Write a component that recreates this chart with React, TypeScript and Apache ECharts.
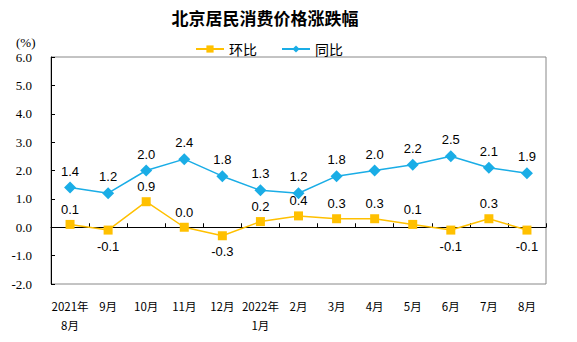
import React, { useEffect, useRef } from "react";
import * as echarts from "echarts";

const categories = ["2021年\n8月", "9月", "10月", "11月", "12月", "2022年\n1月", "2月", "3月", "4月", "5月", "6月", "7月", "8月"];
const momValues = [0.1, -0.1, 0.9, 0.0, -0.3, 0.2, 0.4, 0.3, 0.3, 0.1, -0.1, 0.3, -0.1];
const yoyValues = [1.4, 1.2, 2.0, 2.4, 1.8, 1.3, 1.2, 1.8, 2.0, 2.2, 2.5, 2.1, 1.9];
const seriesNames = ["环比", "同比"];
const titleText = "北京居民消费价格涨跌幅";

const labelFont = { fontFamily: "Liberation Sans", fontSize: 13, color: "#000" };

export default function App() {
  const ref = useRef<HTMLDivElement>(null);
  useEffect(() => {
    if (!ref.current) return;
    const chart = echarts.init(ref.current, null, { renderer: "svg" });
    chart.setOption({
      animation: false,
      backgroundColor: "#fff",
      title: {
        text: titleText,
        left: 260,
        textAlign: "center",
        top: 4,
        textStyle: { fontFamily: "Noto Sans CJK SC", fontSize: 17, fontWeight: "bold", color: "#000" },
      },
      legend: {
        data: seriesNames,
        left: 190,
        top: 37,
        itemWidth: 28,
        itemHeight: 9,
        itemGap: 24,
        textStyle: { fontFamily: "Noto Sans CJK SC", fontSize: 14, color: "#000" },
      },
      graphic: [
        {
          type: "text",
          left: 16,
          top: 36,
          style: { text: "(%)", fontFamily: "Liberation Serif", fontSize: 13, fill: "#000" },
        },
      ],
      grid: {
        left: 51,
        right: 31,
        top: 57,
        bottom: 58,
        show: true,
        borderColor: "#888",
        borderWidth: 1,
        containLabel: false,
        outerBoundsMode: "none",
      },
      xAxis: {
        type: "category",
        data: categories,
        boundaryGap: true,
        axisLine: { onZero: true, lineStyle: { color: "#000", width: 1 } },
        axisTick: { show: true, inside: true, length: 4, lineStyle: { color: "#000" } },
        axisLabel: {
          interval: 0,
          margin: 12,
          fontFamily: "Noto Sans CJK SC",
          fontSize: 11.5,
          lineHeight: 19,
          color: "#000",
          verticalAlign: "top",
        },
        splitLine: { show: false },
      },
      yAxis: {
        type: "value",
        min: -2,
        max: 6,
        interval: 1,
        axisLine: { show: true, lineStyle: { color: "#000", width: 1 } },
        axisTick: { show: true, inside: true, length: 4, lineStyle: { color: "#000" } },
        axisLabel: {
          formatter: (v: number) => v.toFixed(1),
          fontFamily: "Liberation Serif",
          fontSize: 13,
          color: "#000",
          margin: 19,
        },
        splitLine: { show: false },
      },
      series: [
        {
          name: seriesNames[0],
          type: "line",
          data: momValues.map((v) => ({
            value: v,
            label: { position: v < 0 ? "bottom" : "top", distance: v < 0 ? 5 : 4 },
          })),
          symbol: "rect",
          symbolSize: 9,
          itemStyle: { color: "#FFC000" },
          lineStyle: { color: "#FFC000", width: 1.5 },
          label: {
            show: true,
            formatter: (p: any) => Number(p.value).toFixed(1),
            ...labelFont,
          },
          z: 3,
        },
        {
          name: seriesNames[1],
          type: "line",
          data: yoyValues,
          symbol: "diamond",
          symbolSize: 12,
          itemStyle: { color: "#1AADE6" },
          lineStyle: { color: "#1AADE6", width: 1.5 },
          label: {
            show: true,
            position: "top",
            distance: 4,
            formatter: (p: any) => Number(p.value).toFixed(1),
            ...labelFont,
          },
          z: 4,
        },
      ],
    });
    return () => chart.dispose();
  }, []);
  return <div ref={ref} style={{ position: "absolute", left: 0, top: 0, width: 577, height: 342 }} />;
}
